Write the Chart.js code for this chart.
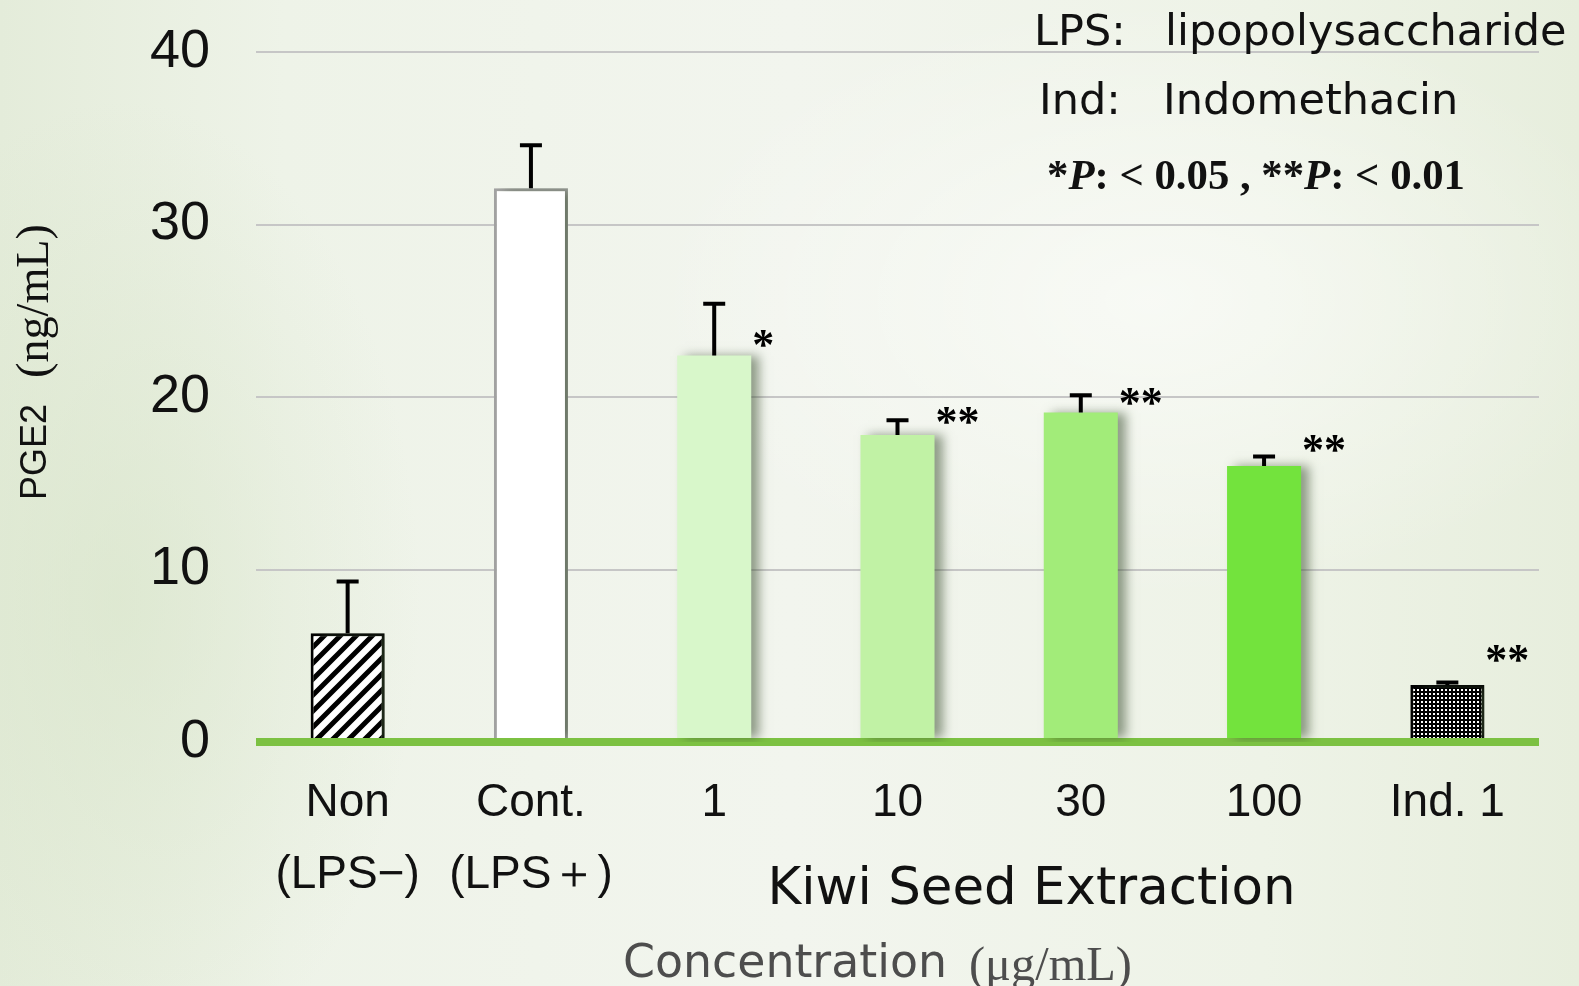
<!DOCTYPE html>
<html>
<head>
<meta charset="utf-8">
<script src="https://cdn.jsdelivr.net/npm/chart.js@4.4.0/dist/chart.umd.min.js"></script>
<style>
    html, body { margin: 0; padding: 0; }
    body {
        width: 1579px; height: 986px; overflow: hidden;
        background:
            radial-gradient(ellipse 500px 300px at 1150px 300px, rgba(255,255,255,0.55), rgba(255,255,255,0)),
            radial-gradient(ellipse 300px 500px at 120px 600px, rgba(215,228,200,0.6), rgba(215,228,200,0)),
            linear-gradient(90deg, #e4ecda 0%, #eef3e8 18%, #f2f5ee 50%, #eef3e7 80%, #e7eedd 100%);
    }
    #wrap { position: relative; width: 1579px; height: 986px; }
</style>
</head>
<body>
<div id="wrap"><canvas id="chart"></canvas></div>
<script>
// PGE2 production (ng/mL) by treatment
const categories = [['Non', '(LPS−)'], ['Cont.', '(LPS＋)'], '1', '10', '30', '100', 'Ind. 1'];
const pge2Values = [6.3, 32.1, 22.4, 17.8, 19.1, 16.0, 3.3];
const pge2Errors = [3.0, 2.5, 3.0, 0.85, 1.0, 0.55, 0.15];
const sigMarks = ['', '', '*', '**', '**', '**', '**'];
const sigLevels = [null, null, 23.4, 18.9, 20.0, 17.3, 5.1];
const yMin = 0, yMax = 40, yStep = 10;

const sansFont = '"Liberation Sans", Arial, sans-serif';
const uiFont = '"DejaVu Sans", Verdana, sans-serif';
const serifFont = '"Liberation Serif", "Times New Roman", serif';

/**
 * Diagonal hatch used for the LPS- bar
 */
function makeHatch(ctx) {
    const c = document.createElement('canvas');
    c.width = 16; c.height = 16;
    const g = c.getContext('2d');
    g.fillStyle = '#fff';
    g.fillRect(0, 0, 16, 16);
    g.strokeStyle = '#000';
    g.lineWidth = 5;
    g.beginPath();
    g.moveTo(-4, 20); g.lineTo(20, -4);
    g.moveTo(-4, 4); g.lineTo(4, -4);
    g.moveTo(12, 20); g.lineTo(20, 12);
    g.stroke();
    return ctx.createPattern(c, 'repeat');
}

/**
 * Dotted fill used for the indomethacin bar
 */
function makeDots(ctx) {
    const c = document.createElement('canvas');
    c.width = 4; c.height = 4;
    const g = c.getContext('2d');
    g.fillStyle = '#000';
    g.fillRect(0, 0, 4, 4);
    g.fillStyle = '#fff';
    g.fillRect(1, 1, 2, 2);
    return ctx.createPattern(c, 'repeat');
}

// soft shadow on the right of the bars
const barShadow = {
    id: 'barShadow',
    beforeDatasetDraw(chart) {
        const ctx = chart.ctx;
        ctx.save();
        ctx.shadowColor = 'rgba(60, 80, 50, 0.55)';
        ctx.shadowBlur = 10;
        ctx.shadowOffsetX = 8;
        ctx.shadowOffsetY = 0;
    },
    afterDatasetDraw(chart) {
        chart.ctx.restore();
    }
};

// upper error bars and significance marks
const errorBars = {
    id: 'errorBars',
    afterDatasetsDraw(chart) {
        const ctx = chart.ctx;
        const y = chart.scales.y;
        const meta = chart.getDatasetMeta(0);
        ctx.save();
        ctx.strokeStyle = '#000';
        ctx.lineWidth = 4;
        meta.data.forEach((bar, i) => {
            const top = y.getPixelForValue(pge2Values[i] + pge2Errors[i]);
            ctx.beginPath();
            ctx.moveTo(bar.x, bar.y);
            ctx.lineTo(bar.x, top);
            ctx.moveTo(bar.x - 11, top);
            ctx.lineTo(bar.x + 11, top);
            ctx.stroke();
        });

        ctx.fillStyle = '#000';
        ctx.font = `bold 44px ${serifFont}`;
        ctx.textAlign = 'left';
        ctx.textBaseline = 'middle';
        meta.data.forEach((bar, i) => {
            if (!sigMarks[i]) return;
            ctx.fillText(sigMarks[i], bar.x + 38, y.getPixelForValue(sigLevels[i]) + 9);
        });
        ctx.restore();
    }
};

// scale the font so a string spans a given width
function fitFont(ctx, text, style, family, width) {
    ctx.font = `${style} 100px ${family}`;
    const size = 100 * width / ctx.measureText(text).width;
    ctx.font = `${style} ${size}px ${family}`;
    return size;
}

// axis titles and the note block in the top right
const annotations = {
    id: 'annotations',
    afterDraw(chart) {
        const ctx = chart.ctx;
        const area = chart.chartArea;
        ctx.save();
        ctx.fillStyle = '#111';
        ctx.textBaseline = 'middle';
        ctx.textAlign = 'left';

        // y title, rotated
        ctx.save();
        ctx.translate(36, 500);
        ctx.rotate(-Math.PI / 2);
        ctx.font = `36px ${sansFont}`;
        ctx.fillText('PGE2', 0, 0);
        fitFont(ctx, '(ng/mL)', '', serifFont, 154);
        ctx.fillText('(ng/mL)', 122, 0);
        ctx.restore();

        // notes
        ctx.font = `43px ${uiFont}`;
        ctx.fillText('LPS:', 1034, 34);
        ctx.fillText('lipopolysaccharide', 1165, 34);
        ctx.fillText('Ind:', 1039, 103);
        ctx.fillText('Indomethacin', 1163, 103);

        const parts = [
            ['bold', '*'], ['italic bold', 'P'], ['bold', ': < 0.05 , **'],
            ['italic bold', 'P'], ['bold', ': < 0.01']
        ];
        const pSize = 40;
        let total = 0;
        parts.forEach(([style, text]) => {
            ctx.font = `${style} ${pSize}px ${serifFont}`;
            total += ctx.measureText(text).width;
        });
        const k = 418 / total;
        let px = 1047;
        parts.forEach(([style, text]) => {
            ctx.font = `${style} ${pSize * k}px ${serifFont}`;
            ctx.fillText(text, px, 178);
            px += ctx.measureText(text).width;
        });

        // x titles
        ctx.textAlign = 'center';
        fitFont(ctx, 'Kiwi Seed Extraction', '', uiFont, 528);
        ctx.fillText('Kiwi Seed Extraction', (area.left + area.right) / 2 + 134, 891);

        ctx.textAlign = 'left';
        ctx.fillStyle = '#4d4d4d';
        fitFont(ctx, 'Concentration', '', uiFont, 324);
        ctx.fillText('Concentration', 623, 965);
        fitFont(ctx, '(μg/mL)', '', serifFont, 163);
        ctx.fillText('(μg/mL)', 969, 967);
        ctx.restore();
    }
};

const canvas = document.getElementById('chart');
const ctx = canvas.getContext('2d');

const barFills = [makeHatch(ctx), '#ffffff', '#d8f7ca', '#c1f2a5', '#a2ec79', '#73e33d', makeDots(ctx)];
const barBorders = ['#000000', '#a3a3a3', 'rgba(0,0,0,0)', 'rgba(0,0,0,0)', 'rgba(0,0,0,0)', 'rgba(0,0,0,0)', '#000000'];
const barBorderWidths = [3, 3, 0, 0, 0, 0, 3];

new Chart(ctx, {
    type: 'bar',
    data: {
        labels: categories,
        datasets: [{
            data: pge2Values,
            backgroundColor: barFills,
            borderColor: barBorders,
            borderWidth: barBorderWidths,
            barPercentage: 0.404,
            categoryPercentage: 1
        }]
    },
    options: {
        responsive: true,
        maintainAspectRatio: false,
        animation: false,
        layout: { padding: { top: 52, right: 40, left: 0, bottom: 0 } },
        plugins: {
            legend: { display: false },
            tooltip: { enabled: false }
        },
        scales: {
            x: {
                grid: { display: false },
                border: { display: false },
                ticks: {
                    color: '#111',
                    font: { family: sansFont, size: 46, lineHeight: 1.55 },
                    padding: 18,
                    maxRotation: 0,
                    autoSkip: false
                },
                afterFit: scale => { scale.height = 244; }
            },
            y: {
                min: yMin,
                max: yMax,
                ticks: {
                    stepSize: yStep,
                    padding: 0,
                    color: '#111',
                    font: { family: sansFont, size: 54 }
                },
                grid: {
                    drawTicks: true,
                    tickLength: 46,
                    tickColor: 'rgba(0,0,0,0)',
                    color: c => c.tick && c.tick.value === 0 ? '#7cc142' : '#c6c6c6',
                    lineWidth: c => c.tick && c.tick.value === 0 ? 8 : 2
                },
                border: { display: false },
                afterFit: scale => { scale.width = 256; }
            }
        }
    },
    plugins: [barShadow, errorBars, annotations]
});
</script>
</body>
</html>
